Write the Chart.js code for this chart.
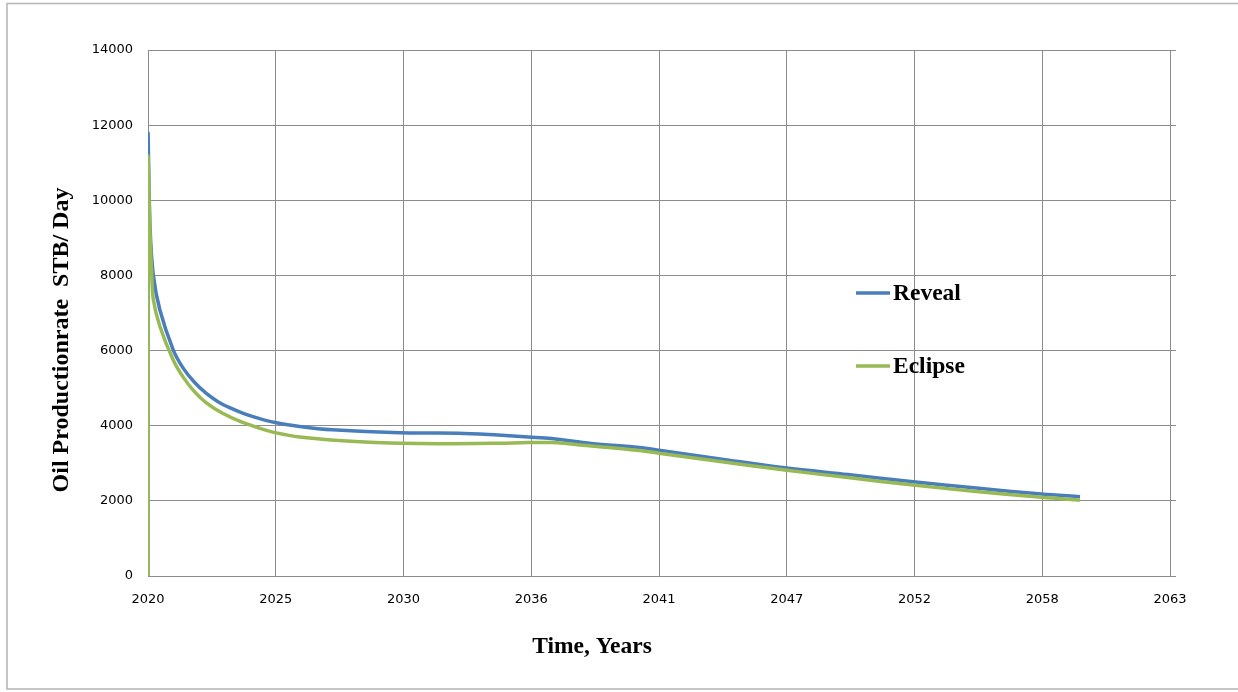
<!DOCTYPE html>
<html>
<head>
<meta charset="utf-8">
<script src="https://cdn.jsdelivr.net/npm/chart.js@4.4.1/dist/chart.umd.min.js"></script>
<style>
  html, body { margin: 0; padding: 0; background: #ffffff; }
  #wrap { position: relative; width: 1238px; height: 692px; }
  canvas { display: block; }
</style>
</head>
<body>
<div id="wrap"><canvas id="chart" width="1238" height="692"></canvas></div>
<script>
// Time axis: one major unit = 2000 days, labelled with the calendar year
const DAYS_PER_YEAR = 365.25;
const majorUnitYears = 2000 / DAYS_PER_YEAR;
const xTickLabels = ['2020', '2025', '2030', '2036', '2041', '2047', '2052', '2058', '2063'];
const yTicks = [0, 2000, 4000, 6000, 8000, 10000, 12000, 14000];

// Elapsed time (years after start) and oil rate (STB/day)
const revealYears = [0, 0, 0.086, 0.23, 0.51, 1.08, 1.5, 2.0, 2.5, 3.0, 3.5, 4.0, 4.5, 5.0, 5.5, 6.5, 7.9, 10.8, 13.3, 15.0, 16.3, 17.3, 19.0, 21.05, 21.9, 24.6, 27.3, 30.0, 32.8, 35.5, 38.3, 39.95];
const revealRate  = [0, 11700, 9300, 8000, 7080, 6020, 5540, 5150, 4860, 4640, 4480, 4350, 4240, 4150, 4080, 3980, 3890, 3810, 3800, 3750, 3700, 3660, 3530, 3420, 3350, 3110, 2880, 2700, 2510, 2340, 2180, 2110];

const eclipseYears = [0, 0, 0.086, 0.16, 0.23, 0.51, 1.08, 1.5, 2.0, 2.5, 3.2, 4.0, 4.8, 5.5, 6.5, 8.35, 10.9, 14.8, 16.3, 17.3, 19.0, 21.05, 21.9, 24.6, 27.3, 30.0, 32.8, 35.5, 38.3, 39.95];
const eclipseRate  = [0, 11100, 9130, 8060, 7350, 6640, 5750, 5300, 4900, 4610, 4330, 4100, 3930, 3810, 3700, 3600, 3530, 3530, 3550, 3550, 3460, 3340, 3270, 3040, 2820, 2620, 2420, 2250, 2095, 2020];

const seriesNames = ['Reveal', 'Eclipse'];
const seriesColors = ['#4A7EBB', '#98B954'];

const toPoints = (xs, ys) => xs.map((x, i) => ({ x: x, y: ys[i] }));

const GRID = '#8c8c8c';
const TICK_FONT = { family: 'DejaVu Sans', size: 13 };
const SERIF = '"Liberation Serif", "Times New Roman", serif';

// Frame, axis titles and the in-plot legend
const decorations = {
  id: 'decorations',
  afterDraw(chart) {
    const ctx = chart.ctx;
    ctx.save();
    // outer frame of the chart object
    ctx.strokeStyle = '#b4b4b4';
    ctx.lineWidth = 1.5;
    ctx.strokeRect(7, 3.5, 1240, 685.5);

    ctx.fillStyle = '#000';
    ctx.textAlign = 'center';
    ctx.textBaseline = 'middle';
    ctx.font = 'bold 23.5px ' + SERIF;
    ctx.fillText('Time, Years', 592, 647);

    ctx.save();
    ctx.translate(62, 340);
    ctx.rotate(-Math.PI / 2);
    ctx.font = 'bold 24px ' + SERIF;
    ctx.fillText('Oil Productionrate  STB/ Day', 0, 0);
    ctx.restore();

    // legend inside the plot
    ctx.font = 'bold 23.5px ' + SERIF;
    const legendY = [293, 366];
    seriesNames.forEach((name, i) => {
      ctx.strokeStyle = seriesColors[i];
      ctx.lineWidth = 3.5;
      ctx.beginPath();
      ctx.moveTo(856, legendY[i]);
      ctx.lineTo(890, legendY[i]);
      ctx.stroke();
      ctx.fillStyle = '#000';
      ctx.textAlign = 'left';
      ctx.fillText(name, 893, legendY[i] + 1);
    });
    ctx.restore();
  }
};

new Chart(document.getElementById('chart'), {
  type: 'line',
  data: {
    datasets: [
      {
        label: seriesNames[0],
        data: toPoints(revealYears, revealRate),
        borderColor: seriesColors[0],
        borderWidth: 3.5,
        pointRadius: 0,
        tension: 0.35,
        order: 1
      },
      {
        label: seriesNames[1],
        data: toPoints(eclipseYears, eclipseRate),
        borderColor: seriesColors[1],
        borderWidth: 3.5,
        pointRadius: 0,
        tension: 0.35,
        order: 0
      }
    ]
  },
  options: {
    responsive: false,
    animation: false,
    events: [],
    layout: { padding: { top: 50, right: 62, bottom: 0, left: 0 } },
    plugins: {
      legend: { display: false },
      tooltip: { enabled: false }
    },
    scales: {
      x: {
        type: 'linear',
        min: 0,
        max: majorUnitYears * (xTickLabels.length - 1),
        afterBuildTicks(scale) {
          scale.ticks = xTickLabels.map((_, i) => ({ value: i * majorUnitYears }));
        },
        afterFit(scale) { scale.height = 692 - 576; },
        grid: { color: GRID, lineWidth: 1, drawTicks: false },
        border: { color: GRID, width: 1 },
        ticks: {
          font: TICK_FONT,
          color: '#000',
          padding: 16,
          maxRotation: 0,
          autoSkip: false,
          callback: (v, i) => xTickLabels[i]
        }
      },
      y: {
        type: 'linear',
        min: 0,
        max: 14000,
        afterBuildTicks(scale) {
          scale.ticks = yTicks.map(v => ({ value: v }));
        },
        afterFit(scale) { scale.width = 148; },
        grid: { color: GRID, lineWidth: 1, drawTicks: false },
        border: { color: GRID, width: 1 },
        ticks: {
          font: TICK_FONT,
          color: '#000',
          padding: 15,
          callback: v => String(v)
        }
      },
      yRight: {
        type: 'linear',
        position: 'right',
        min: 0,
        max: 14000,
        afterBuildTicks(scale) {
          scale.ticks = yTicks.map(v => ({ value: v }));
        },
        afterFit(scale) { scale.width = 6; },
        grid: { color: GRID, lineWidth: 1, drawOnChartArea: false, drawTicks: true, tickLength: 6 },
        border: { color: GRID, width: 1 },
        ticks: { display: false }
      }
    }
  },
  plugins: [decorations]
});
</script>
</body>
</html>
